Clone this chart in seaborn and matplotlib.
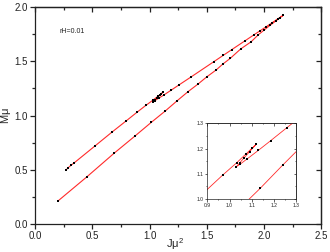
import numpy as np
import pandas as pd
import matplotlib
matplotlib.use("Agg")
import matplotlib.pyplot as plt
from matplotlib.ticker import MultipleLocator
import seaborn as sns

# curve traced in order: lower branch up to the turning point,
# back down the upper branch, through the two cusps, to the left end
j_vals = [0.20, 0.451, 0.692, 0.873, 1.015, 1.137, 1.24, 1.335, 1.422, 1.50,
          1.58, 1.64, 1.704, 1.795, 1.887, 1.95, 2.00, 2.05, 2.10, 2.14, 2.165,
          2.12, 2.07, 2.02, 1.96, 1.914, 1.835, 1.719, 1.643, 1.56, 1.36, 1.257,
          1.185, 1.129, 1.08, 1.047, 1.03,
          1.045, 1.065, 1.09, 1.12,
          1.10, 1.075, 1.032, 0.969, 0.89, 0.794, 0.672, 0.526, 0.34, 0.314,
          0.29, 0.27]
m_vals = [0.21, 0.432, 0.653, 0.811, 0.937, 1.042, 1.136, 1.22, 1.29, 1.358,
          1.42, 1.476, 1.528, 1.615, 1.682, 1.747, 1.79, 1.832, 1.872, 1.905, 1.925,
          1.894, 1.858, 1.822, 1.78, 1.748, 1.692, 1.61, 1.556, 1.497, 1.355, 1.283,
          1.232, 1.193, 1.16, 1.138, 1.128,
          1.143, 1.163, 1.188, 1.218,
          1.201, 1.18, 1.144, 1.095, 1.03, 0.949, 0.847, 0.721, 0.561, 0.54,
          0.518, 0.496]

df = pd.DataFrame({"J": j_vals, "M": m_vals})

sns.set_style("ticks")
plt.rcParams["font.family"] = ["Liberation Sans", "DejaVu Sans"]
plt.rcParams["mathtext.fontset"] = "custom"
plt.rcParams["mathtext.rm"] = "Liberation Sans"
plt.rcParams["mathtext.it"] = "Liberation Sans"


def draw(ax, lw, ms):
    sns.lineplot(data=df, x="J", y="M", sort=False, estimator=None, color="#ff2a2a",
                 lw=lw, ax=ax, zorder=2)
    sns.scatterplot(data=df, x="J", y="M", marker="s", s=ms, color="black",
                    linewidth=0, ax=ax, zorder=3)


def style_ticks(ax, major, minor, fs, maj_len, min_len, width, pad):
    for axis in (ax.xaxis, ax.yaxis):
        axis.set_major_locator(MultipleLocator(major))
        axis.set_minor_locator(MultipleLocator(minor))
    ax.tick_params(which="major", direction="out", length=maj_len, width=width,
                   labelsize=fs, pad=pad, colors="#222222")
    ax.tick_params(which="minor", direction="out", length=min_len, width=width)
    for sp in ax.spines.values():
        sp.set_visible(True)
        sp.set_linewidth(width)
        sp.set_color("#222222")
    # mirrored ticks pointing inward on top and right
    top = ax.secondary_xaxis("top")
    right = ax.secondary_yaxis("right")
    for sec, axis in ((top, top.xaxis), (right, right.yaxis)):
        axis.set_major_locator(MultipleLocator(major))
        axis.set_minor_locator(MultipleLocator(minor))
        sec.tick_params(which="major", direction="in", length=maj_len, width=width,
                        labelleft=False, labelright=False, labeltop=False,
                        labelbottom=False, colors="#222222")
        sec.tick_params(which="minor", direction="in", length=min_len, width=width)
        for sp in sec.spines.values():
            sp.set_linewidth(width)
            sp.set_color("#222222")


fig = plt.figure(figsize=(3.3, 2.52), dpi=100)
ax = fig.add_axes([0.106, 0.112, 0.868, 0.859])
draw(ax, 0.8, 3)
ax.set_xlim(0, 2.5)
ax.set_ylim(0, 2.0)
style_ticks(ax, 0.5, 0.25, 7, 3.5, 2, 0.9, 1.5)
ax.set_xlabel(r"J$\mu^2$", fontsize=8)
ax.xaxis.set_label_coords(0.49, -0.058)
ax.set_ylabel(r"M$\mu$", fontsize=8, labelpad=1)
ax.text(0.087, 0.886, "rH=0.01", transform=ax.transAxes, fontsize=5,
        va="center", ha="left", color="#222222")

ins = fig.add_axes([0.628, 0.210, 0.270, 0.300])
draw(ins, 0.6, 1.5)
ins.set_xlim(0.9, 1.3)
ins.set_ylim(1.0, 1.3)
style_ticks(ins, 0.1, 0.05, 3.6, 1.8, 1, 0.5, 1)
ins.set_xlabel("")
ins.set_ylabel("")

fig.savefig("out.png", dpi=100)
